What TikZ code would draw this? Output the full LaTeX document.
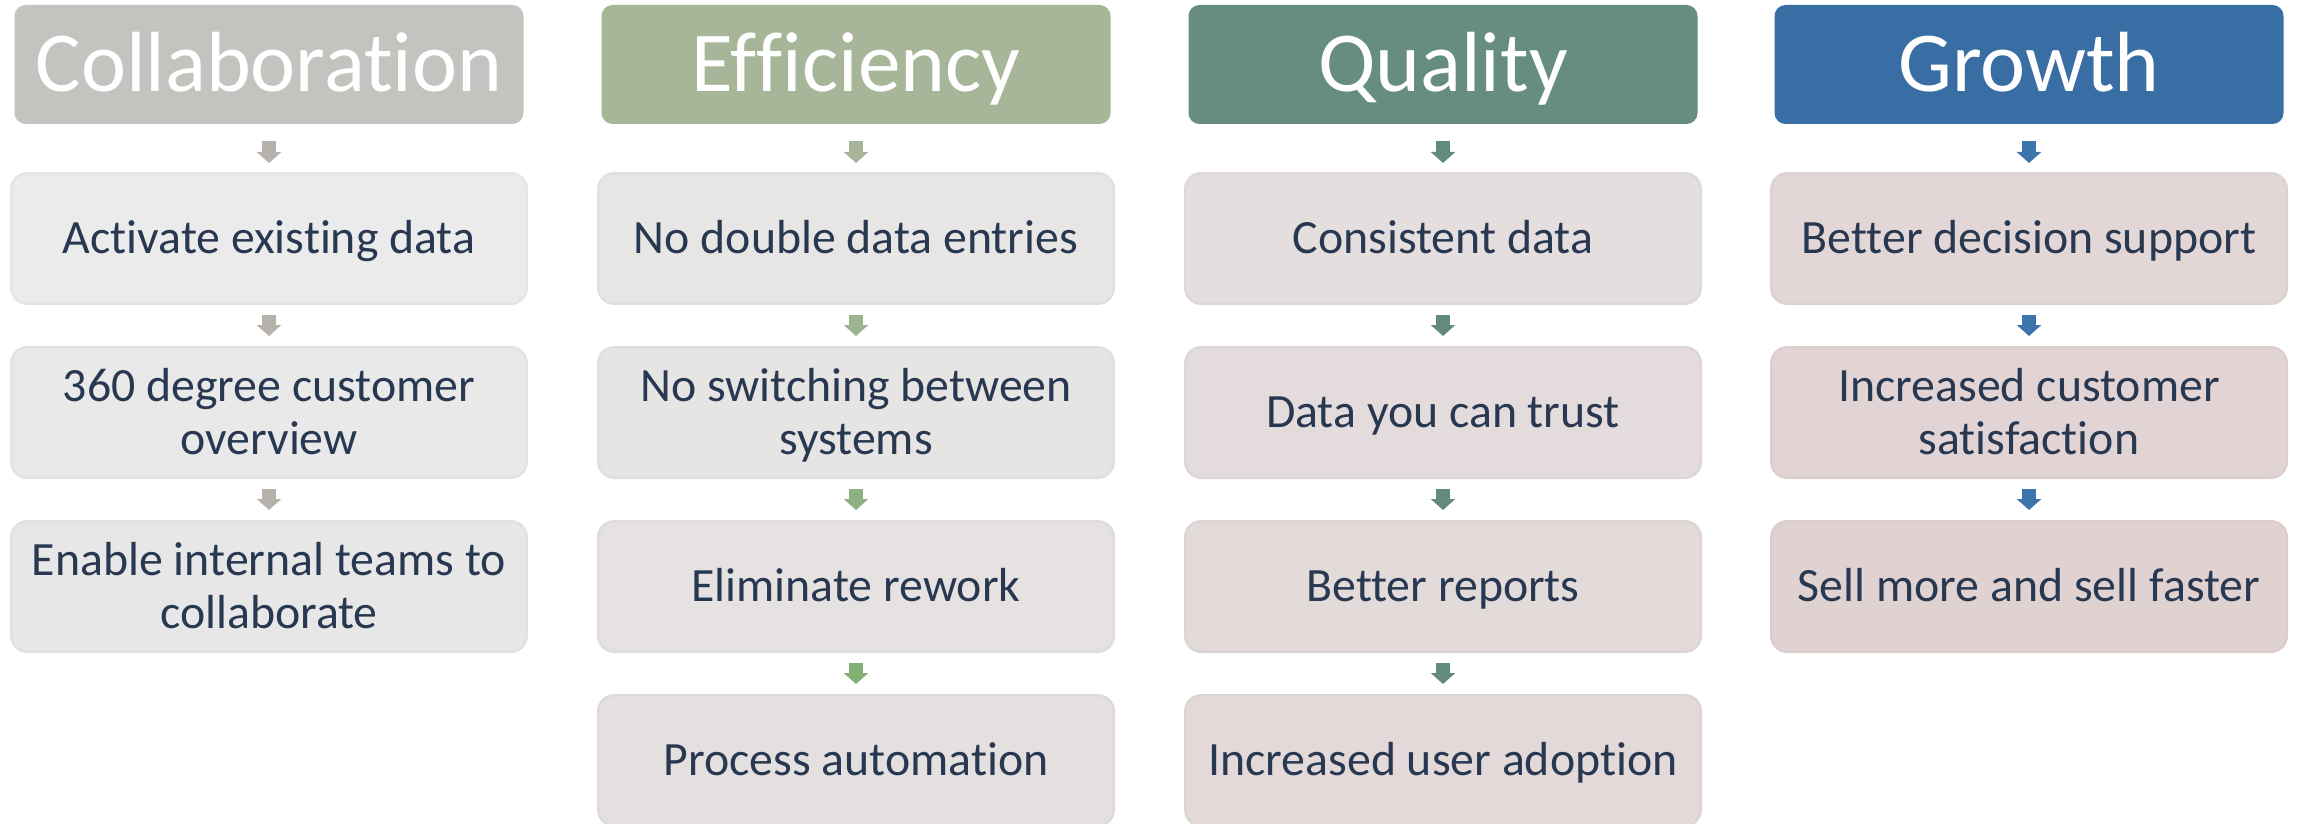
\documentclass[tikz,border=0pt]{standalone}
\usepackage{fontspec}
\setmainfont{Carlito}[RawFeature={-liga;-clig;-dlig;-calt;-hlig}]
\usetikzlibrary{arrows.meta}
\definecolor{txt}{HTML}{283851}
\definecolor{hA}{HTML}{C4C3C0}
\definecolor{hB}{HTML}{A7B698}
\definecolor{hC}{HTML}{678C81}
\definecolor{hD}{HTML}{386EA3}
\definecolor{fA1}{HTML}{EBEBEB}
\definecolor{fA2}{HTML}{E9E9E9}
\definecolor{fA3}{HTML}{E8E7E7}
\definecolor{fB1}{HTML}{E8E6E5}
\definecolor{fB2}{HTML}{E7E4E4}
\definecolor{fB3}{HTML}{E6E2E2}
\definecolor{fB4}{HTML}{E5E0E0}
\definecolor{fC1}{HTML}{E4DEDE}
\definecolor{fC2}{HTML}{E4DCDC}
\definecolor{fC3}{HTML}{E3DADA}
\definecolor{fC4}{HTML}{E3D9D9}
\definecolor{fD1}{HTML}{E3D6D6}
\definecolor{fD2}{HTML}{E2D4D4}
\definecolor{fD3}{HTML}{E1D2D2}
\definecolor{aA}{HTML}{B6B1AB}
\definecolor{aB1}{HTML}{A8B59A}
\definecolor{aB2}{HTML}{9DB28E}
\definecolor{aB3}{HTML}{8DB080}
\definecolor{aB4}{HTML}{82AF74}
\definecolor{aC}{HTML}{628A7F}
\definecolor{aD}{HTML}{3E74AC}
\newcommand\twol[2]{\vbox{\baselineskip=53pt\lineskiplimit=-100pt\halign{\hfil##\hfil\cr#1\cr#2\cr}}}
\tikzset{
  hdr/.style={rectangle, rounded corners=11pt, minimum width=509pt, minimum height=119pt,
    inner sep=0pt, outer sep=0pt, fill=#1, text=white,
    font=\fontsize{85.4}{100}\selectfont, text height=55pt, text depth=0pt},
  itembox/.style={rectangle, rounded corners=16pt, minimum width=515.5pt, minimum height=130.5pt,
    inner sep=0pt, line width=2.5pt, fill=#1, draw=#1!97.5!black, text=txt,
    font=\fontsize{47.8}{53}\selectfont, text height=30.8pt, text depth=0pt},
  twoline/.style={text height=83.8pt},
  flowarrow/.style={draw=#1, line width=14pt, -{Triangle[width=24pt,length=11pt]},
    shorten <=10pt, shorten >=10pt},
  toparrow/.style={flowarrow=#1, shorten <=17pt, shorten >=9pt},
}
\begin{document}
\begin{tikzpicture}[x=1pt,y=-1pt]
\useasboundingbox (0,0) rectangle (2297,824);
% headers
\node[hdr=hA] (hA) at (269,64.5) {Collaborat\kern0pt ion};
\node[hdr=hB] (hB) at (856,64.5) {Ef\kern0pt f\kern0pt iciency};
\node[hdr=hC] (hC) at (1443,64.5) {Quality};
\node[hdr=hD] (hD) at (2029,64.5) {Growth};
% column 1
\node[itembox=fA1] (a1) at (269,238.5) {Activate existing data};
\node[itembox=fA2, twoline] (a2) at (269,412.5) {\twol{360 degree customer}{overview}};
\node[itembox=fA3, twoline] (a3) at (269,586.5) {\twol{Enable internal teams to}{collaborate}};
% column 2
\node[itembox=fB1] (b1) at (856,238.5) {No double data entries};
\node[itembox=fB2, twoline] (b2) at (856,412.5) {\twol{No switching between}{systems}};
\node[itembox=fB3] (b3) at (856,586.5) {Eliminate rework};
\node[itembox=fB4] (b4) at (856,760.5) {Process automation};
% column 3
\node[itembox=fC1] (c1) at (1443,238.5) {Consistent data};
\node[itembox=fC2] (c2) at (1443,412.5) {Data you can trust};
\node[itembox=fC3] (c3) at (1443,586.5) {Better reports};
\node[itembox=fC4] (c4) at (1443,760.5) {Increased user adoption};
% column 4
\node[itembox=fD1] (d1) at (2029,238.5) {Better decision support};
\node[itembox=fD2, twoline] (d2) at (2029,412.5) {\twol{Increased customer}{satisfaction}};
\node[itembox=fD3] (d3) at (2029,586.5) {Sell more and sell faster};
% arrows
\draw[toparrow=aA] (hA.south) -- (a1.north);
\draw[flowarrow=aA] (a1.south) -- (a2.north);
\draw[flowarrow=aA] (a2.south) -- (a3.north);
\draw[toparrow=aB1] (hB.south) -- (b1.north);
\draw[flowarrow=aB2] (b1.south) -- (b2.north);
\draw[flowarrow=aB3] (b2.south) -- (b3.north);
\draw[flowarrow=aB4] (b3.south) -- (b4.north);
\draw[toparrow=aC] (hC.south) -- (c1.north);
\draw[flowarrow=aC] (c1.south) -- (c2.north);
\draw[flowarrow=aC] (c2.south) -- (c3.north);
\draw[flowarrow=aC] (c3.south) -- (c4.north);
\draw[toparrow=aD] (hD.south) -- (d1.north);
\draw[flowarrow=aD] (d1.south) -- (d2.north);
\draw[flowarrow=aD] (d2.south) -- (d3.north);
\end{tikzpicture}
\end{document}
